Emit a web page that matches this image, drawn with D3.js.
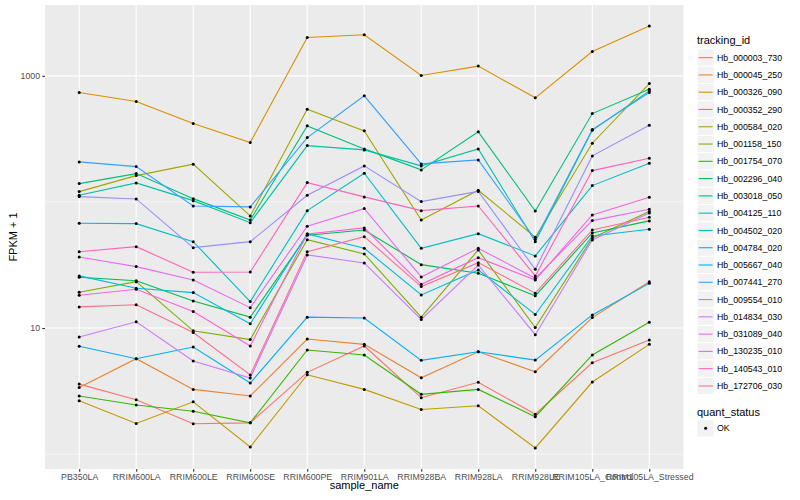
<!DOCTYPE html>
<meta charset="utf-8">
<style>
  body { margin: 0; background: #fff; }
  text { font-family: "Liberation Sans", Arial, Helvetica, sans-serif; }
</style>
<body>
<script src="https://cdn.jsdelivr.net/npm/d3@7"></script>
<script>
// sample names (x categories)
var samples = ["PB350LA", "RRIM600LA", "RRIM600LE", "RRIM600SE", "RRIM600PE", "RRIM901LA",
  "RRIM928BA", "RRIM928LA", "RRIM928LE", "RRIM105LA_Control", "RRIM105LA_Stressed"];

// FPKM + 1 per tracking id, one value per sample
var Hb_000003_730 = [3.59, 2.70, 1.74, 1.77, 4.45, 7.20, 2.80, 3.71, 2.07, 5.30, 8.03];
var Hb_000045_250 = [3.38, 5.71, 3.26, 2.89, 8.18, 7.42, 4.03, 6.48, 4.50, 12.1, 23.3];
var Hb_000326_090 = [737, 625, 418, 296, 2014, 2115, 1006, 1194, 669, 1559, 2480];
var Hb_000352_290 = [2.65, 1.75, 2.60, 1.14, 4.26, 3.26, 2.26, 2.42, 1.12, 3.73, 7.42];
var Hb_000584_020 = [120.7, 161.7, 199.2, 77.4, 544, 366, 71.9, 123.8, 52.5, 292, 869];
var Hb_001158_150 = [19.2, 23.3, 9.5, 8.1, 50.2, 38.7, 12.2, 41.6, 10.1, 51.8, 83.8];
var Hb_001754_070 = [2.89, 2.45, 2.19, 1.77, 6.69, 6.11, 2.98, 3.26, 1.98, 6.11, 11.1];
var Hb_002296_040 = [25.3, 23.7, 16.4, 12.2, 54.4, 59.9, 31.8, 27.2, 18.0, 56.8, 70.7];
var Hb_003018_050 = [139.7, 167.7, 106.2, 71.9, 401, 263.4, 179.5, 359.4, 84.8, 502, 784];
var Hb_004125_110 = [113.0, 141.5, 102.4, 68.5, 279.8, 258.6, 193.1, 263.4, 48.4, 369.4, 760];
var Hb_004502_020 = [67.8, 67.3, 48.4, 16.2, 85.3, 169.0, 42.9, 56.0, 37.3, 134.7, 202.8];
var Hb_004784_020 = [25.9, 20.7, 19.1, 10.8, 55.7, 42.9, 18.3, 28.9, 12.8, 53.7, 60.7];
var Hb_005667_040 = [7.16, 5.71, 7.07, 3.66, 12.2, 12.0, 5.54, 6.48, 5.57, 12.7, 22.6];
var Hb_007441_270 = [207.7, 190.6, 92.9, 91.3, 324, 694, 200.3, 215.4, 50.4, 374.8, 737];
var Hb_009554_010 = [110.2, 105.6, 43.4, 48.4, 113.0, 193.1, 100.6, 121.1, 29.2, 231.8, 406];
var Hb_014834_030 = [8.5, 11.2, 5.47, 4.01, 38.0, 32.8, 11.7, 31.6, 8.85, 49.9, 81.8];
var Hb_031089_040 = [36.6, 30.7, 24.0, 14.5, 64.1, 88.5, 25.4, 42.9, 24.8, 71.1, 87.5];
var Hb_130235_010 = [18.2, 20.3, 13.5, 7.2, 55.7, 62.2, 22.2, 36.1, 24.0, 78.8, 109.0];
var Hb_140543_010 = [40.3, 44.2, 27.7, 27.8, 142.3, 109.6, 85.3, 92.9, 25.9, 177.2, 222.3];
var Hb_172706_030 = [14.7, 15.3, 9.2, 4.24, 40.3, 53.0, 21.3, 33.0, 18.9, 59.9, 75.6];

var trackingIds = ["Hb_000003_730", "Hb_000045_250", "Hb_000326_090", "Hb_000352_290", "Hb_000584_020",
  "Hb_001158_150", "Hb_001754_070", "Hb_002296_040", "Hb_003018_050", "Hb_004125_110",
  "Hb_004502_020", "Hb_004784_020", "Hb_005667_040", "Hb_007441_270", "Hb_009554_010",
  "Hb_014834_030", "Hb_031089_040", "Hb_130235_010", "Hb_140543_010", "Hb_172706_030"];
var seriesValues = [Hb_000003_730, Hb_000045_250, Hb_000326_090, Hb_000352_290, Hb_000584_020,
  Hb_001158_150, Hb_001754_070, Hb_002296_040, Hb_003018_050, Hb_004125_110,
  Hb_004502_020, Hb_004784_020, Hb_005667_040, Hb_007441_270, Hb_009554_010,
  Hb_014834_030, Hb_031089_040, Hb_130235_010, Hb_140543_010, Hb_172706_030];

var yMajor = [10, 1000];
var yMinor = [1, 100];
var quantStatus = ["OK"];

// ggplot hue palette for 20 levels
var palette = ["#F8766D", "#EA8331", "#D89000", "#C09B00", "#A3A500", "#7CAE00", "#39B600", "#00BB4E",
  "#00BF7D", "#00C1A3", "#00BFC4", "#00BAE0", "#00B0F6", "#35A2FF", "#9590FF", "#C77CFF",
  "#E76BF3", "#FA62DB", "#FF62BC", "#FF6C91"];

var width = 800, height = 500;
var panel = {left: 45, right: 683.5, top: 5, bottom: 469};

var svg = d3.select("body").append("svg")
  .attr("width", width)
  .attr("height", height);

var x = d3.scalePoint()
  .domain(samples)
  .range([panel.left, panel.right])
  .padding(0.6);

var all = d3.merge(seriesValues);
var lmin = Math.log10(d3.min(all)), lmax = Math.log10(d3.max(all));
var pad = (lmax - lmin) * 0.05;
var y = d3.scaleLog()
  .domain([Math.pow(10, lmin - pad), Math.pow(10, lmax + pad)])
  .range([panel.bottom, panel.top]);

var color = d3.scaleOrdinal().domain(trackingIds).range(palette);

// panel background + grid
svg.append("rect")
  .attr("x", panel.left).attr("y", panel.top)
  .attr("width", panel.right - panel.left)
  .attr("height", panel.bottom - panel.top)
  .attr("fill", "#EBEBEB");

svg.selectAll(".minor").data(yMinor).enter().append("line")
  .attr("x1", panel.left).attr("x2", panel.right)
  .attr("y1", d => y(d)).attr("y2", d => y(d))
  .attr("stroke", "#fff").attr("stroke-width", 0.55);

svg.selectAll(".major").data(yMajor).enter().append("line")
  .attr("x1", panel.left).attr("x2", panel.right)
  .attr("y1", d => y(d)).attr("y2", d => y(d))
  .attr("stroke", "#fff").attr("stroke-width", 1.1);

svg.selectAll(".vgrid").data(samples).enter().append("line")
  .attr("x1", d => x(d)).attr("x2", d => x(d))
  .attr("y1", panel.top).attr("y2", panel.bottom)
  .attr("stroke", "#fff").attr("stroke-width", 1.1);

// lines
var line = d3.line()
  .x((d, i) => x(samples[i]))
  .y(d => y(d));

svg.selectAll(".series").data(seriesValues).enter().append("path")
  .attr("d", line)
  .attr("fill", "none")
  .attr("stroke", (d, i) => color(trackingIds[i]))
  .attr("stroke-width", 1.1);

// points
seriesValues.forEach(function(vals) {
  svg.append("g").selectAll("circle").data(vals).enter().append("circle")
    .attr("cx", (d, i) => x(samples[i]))
    .attr("cy", d => y(d))
    .attr("r", 1.5)
    .attr("fill", "#000");
});

// axes
var xAxis = svg.append("g")
  .attr("transform", "translate(0," + panel.bottom + ")")
  .call(d3.axisBottom(x).tickSize(2.75).tickPadding(2.5));
var yAxis = svg.append("g")
  .attr("transform", "translate(" + panel.left + ",0)")
  .call(d3.axisLeft(y).tickValues(yMajor).tickFormat(d3.format("d")).tickSize(2.75).tickPadding(2.2));
[xAxis, yAxis].forEach(function(a) {
  a.select(".domain").remove();
  a.selectAll(".tick line").attr("stroke", "#333").attr("stroke-width", 1.1);
  a.selectAll(".tick text").attr("fill", "#4D4D4D").style("font-size", "8.8px")
    .style("font-family", "'Liberation Sans', Arial, sans-serif");
});

svg.append("text")
  .attr("x", (panel.left + panel.right) / 2).attr("y", 489)
  .attr("text-anchor", "middle").style("font-size", "11px")
  .text("sample_name");

svg.append("text")
  .attr("transform", "translate(16.5," + (panel.top + panel.bottom) / 2 + ") rotate(-90)")
  .attr("text-anchor", "middle").style("font-size", "11px")
  .text("FPKM + 1");

// legend: tracking_id
var lg = svg.append("g").attr("transform", "translate(697,0)");
lg.append("text").attr("x", 0).attr("y", 43.5).style("font-size", "11px").text("tracking_id");
var keyH = 17.28, keyTop = 49;
var items = lg.selectAll(".item").data(trackingIds).enter().append("g")
  .attr("transform", (d, i) => "translate(0," + (keyTop + i * keyH) + ")");
items.append("rect")
  .attr("width", 17.28).attr("height", keyH)
  .attr("fill", "#F2F2F2").attr("stroke", "#fff").attr("stroke-width", 1);
items.append("line")
  .attr("x1", 1.7).attr("x2", 15.6)
  .attr("y1", keyH / 2).attr("y2", keyH / 2)
  .attr("stroke", d => color(d)).attr("stroke-width", 1.1);
items.append("text")
  .attr("x", 20).attr("y", keyH / 2 + 3.1)
  .style("font-size", "8.8px")
  .text(d => d);

// legend: quant_status
var lq = svg.append("g").attr("transform", "translate(697,0)");
lq.append("text").attr("x", 0).attr("y", 415.5).style("font-size", "11px").text("quant_status");
var qItems = lq.selectAll(".q").data(quantStatus).enter().append("g")
  .attr("transform", (d, i) => "translate(0," + (419.7 + i * keyH) + ")");
qItems.append("rect")
  .attr("width", 17.28).attr("height", keyH)
  .attr("fill", "#F2F2F2").attr("stroke", "#fff").attr("stroke-width", 1);
qItems.append("circle")
  .attr("cx", 8.64).attr("cy", keyH / 2).attr("r", 1.5).attr("fill", "#000");
qItems.append("text")
  .attr("x", 20).attr("y", keyH / 2 + 3.1)
  .style("font-size", "8.8px")
  .text(d => d);
</script>
</body>
